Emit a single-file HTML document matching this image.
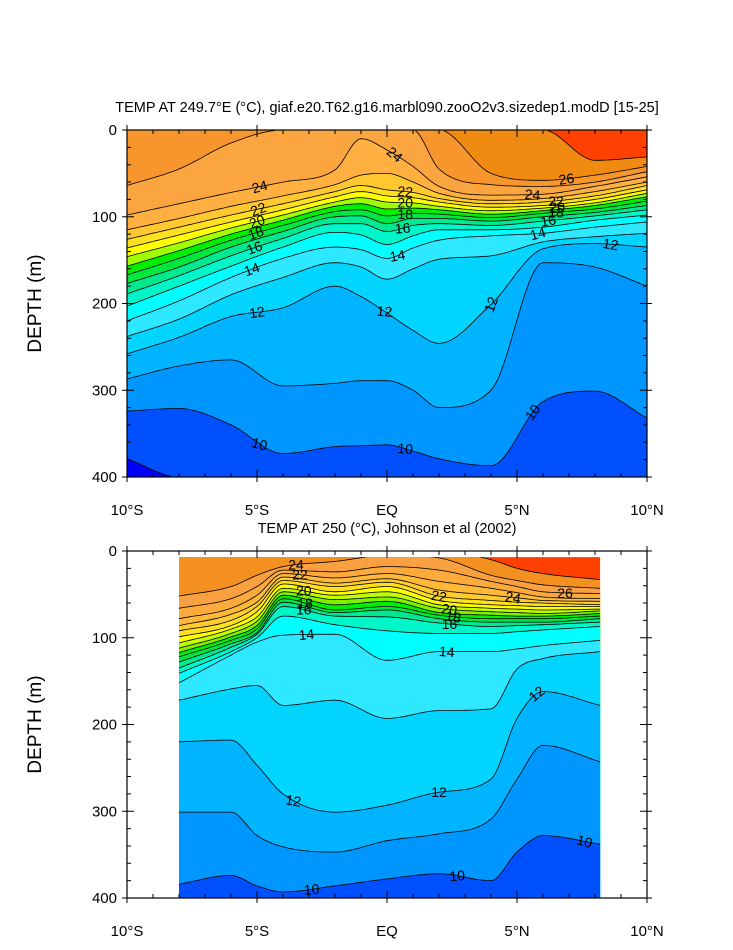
<!DOCTYPE html>
<html><head><meta charset="utf-8"><style>
html,body{margin:0;padding:0;background:#fff;}
svg text{font-family:"Liberation Sans",sans-serif;}
</style></head><body>
<svg id="fig" xmlns="http://www.w3.org/2000/svg" width="733" height="945" viewBox="0 0 733 945"></svg>
<script>
// ---------- TOP PANEL DATA (model) ----------
const topLats=[-10,-8,-6,-4,-2,-1,0,1,2,4,6,8,10];
const topLevels=[9,10,11,12,13,14,15,16,17,18,19,20,21,22,23,24,25,26,27];
const top9 =[379,400,400,400,400,400,400,400,400,400,400,400,400];
const top10=[324,321,340,373,365,364,363,370,379,387,313,301,332];
const top11=[287,272,265,295,292,289,289,300,320,300,153,158,180];
const top12=[258,239,215,205,180,192,211,231,246,201,137,131,135];
const top13=[238,218,190,170,153,158,172,160,149,145,129,123,119];
const top14=[220,197,170,148,135,138,148,136,127,122,119,112,106];
const top15=[203,180,157,135,118,121,132,122,115,115,112,104,98];
const top16=[189,168,145,125,108,108,117,110,108,110,105,99,92];
const top17=[177,158,135,117,100,99,108,102,102,105,100,95,87];
const top18=[167,148,127,110,94,92,99,96,97,101,96,91,82];
const top19=[157,139,120,104,88,85,91,90,92,97,93,87,77];
const top20=[146,130,113,98,83,78,83,84,88,93,90,84,73];
const top21=[136,121,106,92,77,71,76,78,83,89,87,80,69];
const top22=[126,112,98,85,71,64,69,72,79,85,83,76,64];
const top23=[115,102,88,76,63,52,50,60,73,81,79,71,60];
const top24=[98,85,72,60,46,10,23,42,65,75,74,65,54];
const top25=[64,45,15,0,0,0,0,0,45,63,65,60,48];
const top26=[0,0,0,0,0,0,0,0,0,50,58,52,42];
const top27=[0,0,0,0,0,0,0,0,0,0,0,35,31];
const topBandColors=["#0000ff","#0050ff","#0096ff","#00b4ff","#00d4ff","#2ee8ff","#00ffff","#00f5c8","#00e890","#00e840","#00ee00","#a0ff00","#ffff00","#ffe020","#ffc830","#ffb040","#fba540","#f7962c","#f08a10","#ff4000"];
const topLabelText=["24","24","22","20","18","16","14","12","10","22","20","18","16","14","12","10","26","24","22","20","18","16","14","12","12","10"];
const topLabelLevel=[24,24,22,20,18,16,14,12,10,22,20,18,16,14,12,10,26,24,22,20,18,16,14,12,12,10];
const topLabelLat=[0.3,-4.9,-4.95,-5.0,-5.05,-5.1,-5.2,-5.0,-4.9,0.7,0.7,0.7,0.6,0.4,-0.1,0.7,6.9,5.6,6.5,6.55,6.5,6.2,5.8,4.0,8.6,5.6];
const topLabelRot=[40,-15,-20,-20,-20,-20,-20,-8,15,5,0,0,-5,-10,5,5,-8,5,0,0,0,-10,-15,-70,10,-55];

// ---------- BOTTOM PANEL DATA (Johnson et al) ----------
const botLats=[-8,-6,-5,-4,-2,0,2,4,5,6,8.2];
const botLevels=[10,11,12,13,14,15,16,17,18,19,20,21,22,23,24,25,26,27,28];
const bot10=[384,374,386,393,386,378,372,380,347,328,338];
const bot11=[301,301,328,341,347,334,326,309,263,224,243];
const bot12=[220,218,247,280,301,293,278,263,193,162,178];
const bot13=[172,159,155,178,172,193,184,182,136,124,116];
const bot14=[152,120,105,97,96,126,116,116,113,109,103];
const bot15=[141,116,100,75,85,92,95,95,93,91,87];
const bot16=[135,111,96,64,75,76,83,87,86,85,82];
const bot17=[128,107,94,59,71,68,78,82,82,82,78];
const bot18=[122,103,90,55,68,64,74,78,78,78,75];
const bot19=[117,99,86,51,62,58,71,74,75,75,72];
const bot20=[112,95,81,47,56,53,66,70,71,72,69];
const bot21=[106,90,76,43,51,47,62,66,67,68,67];
const bot22=[99,86,70,38,47,41,57,62,63,64,64];
const bot23=[92,80,64,34,41,36,52,57,59,60,62];
const bot24=[86,73,59,30,37,32,45,51,54,57,58];
const bot25=[78,66,51,26,31,26,35,43,48,53,55];
const bot26=[66,55,41,22,24,18,22,35,41,47,49];
const bot27=[52,41,28,18,12,5,8,28,34,39,43];
const bot28=[0,0,0,0,0,0,0,10,20,26,33];
const botBandColors=["#0050ff","#0096ff","#00b4ff","#00d4ff","#2ee8ff","#00ffff","#00f5c8","#00e890","#00e840","#00ee00","#80f000","#c0ff00","#ffff00","#ffe020","#ffcc30","#ffb838","#fcaa3c","#f9a040","#f39020","#ff4000"];
const botLabelText=["24","22","20","18","16","14","12","10","14","12","10","22","20","18","16","24","26","12","10"];
const botLabelLevel=[27,25,21,18,16,14,12,10,14,12,10,23,20,18,16,24,26,12,10];
const botLabelLat=[-3.5,-3.35,-3.2,-3.15,-3.2,-3.1,-3.6,-2.9,2.3,2.0,2.7,2.0,2.4,2.55,2.4,4.85,6.85,5.75,7.6];
const botLabelRot=[0,0,0,0,0,-5,10,-5,5,0,-5,10,10,10,0,10,0,-40,15];

const topLines=[top9,top10,top11,top12,top13,top14,top15,top16,top17,top18,top19,top20,top21,top22,top23,top24,top25,top26,top27];
const botLines=[bot10,bot11,bot12,bot13,bot14,bot15,bot16,bot17,bot18,bot19,bot20,bot21,bot22,bot23,bot24,bot25,bot26,bot27,bot28];

const xTickLabels=["10°S","5°S","EQ","5°N","10°N"];
const xTickVals=[-10,-5,0,5,10];
const yTickVals=[0,100,200,300,400];

const NS="http://www.w3.org/2000/svg";
const svg=document.getElementById('fig');
function mk(tag,attrs,parent){const e=document.createElementNS(NS,tag);for(const k in attrs)e.setAttribute(k,attrs[k]);(parent||svg).appendChild(e);return e;}

function interp(xs,ys,x){
  const n=xs.length;
  if(x<=xs[0])return ys[0]; if(x>=xs[n-1])return ys[n-1];
  const d=[],m=[];
  for(let i=0;i<n-1;i++)d.push((ys[i+1]-ys[i])/(xs[i+1]-xs[i]));
  m.push(d[0]);
  for(let i=1;i<n-1;i++){m.push(d[i-1]*d[i]<=0?0:(d[i-1]+d[i])/2);}
  m.push(d[n-2]);
  for(let i=0;i<n-1;i++){if(d[i]===0){m[i]=0;m[i+1]=0;}else{const a=m[i]/d[i],b=m[i+1]/d[i];const s=a*a+b*b;if(s>9){const t=3/Math.sqrt(s);m[i]=t*a*d[i];m[i+1]=t*b*d[i];}}}
  let k=0;while(x>xs[k+1])k++;
  const h=xs[k+1]-xs[k],t=(x-xs[k])/h;
  const h00=2*t*t*t-3*t*t+1,h10=t*t*t-2*t*t+t,h01=-2*t*t*t+3*t*t,h11=t*t*t-t*t;
  return h00*ys[k]+h10*h*m[k]+h01*ys[k+1]+h11*h*m[k+1];
}

function panel(cfg){
  const X=lat=>cfg.x0+(lat+10)*(cfg.x1-cfg.x0)/20;
  const Y=dep=>cfg.y0+dep*(cfg.y1-cfg.y0)/400;
  const g=mk('g',{});
  
  
  const cid='clip-'+cfg.name;
  const defs=mk('defs',{},g);
  const cp=mk('clipPath',{id:cid},defs);
  const la=cfg.lats[0],lb=cfg.lats[cfg.lats.length-1];
  mk('rect',{x:X(la),y:Y(cfg.dtop),width:X(lb)-X(la),height:Y(400)-Y(cfg.dtop)},cp);
  const field=mk('g',{'clip-path':'url(#'+cid+')'},g);
  
  
  const bg=mk('rect',{x:X(la),y:Y(0),width:X(lb)-X(la),height:Y(400)-Y(0),fill:cfg.colors[cfg.colors.length-1]},field);
  
  
  const samples=[];for(let l=la;l<=lb+1e-9;l+=0.1)samples.push(Math.min(l,lb));
  const curves=cfg.lines.map(arr=>samples.map(l=>[X(l),Y(Math.max(0,Math.min(400,interp(cfg.lats,arr,l))))]));
  for(let i=cfg.lines.length-1;i>=0;i--){
    const c=curves[i];
    let d='M'+c.map(p=>p[0].toFixed(1)+','+p[1].toFixed(1)).join('L');
    d+='L'+X(lb).toFixed(1)+','+Y(401)+'L'+X(la).toFixed(1)+','+Y(401)+'Z';
    const p=mk('path',{d:d,fill:cfg.colors[i],stroke:'none'},field);
    
    
  }
  for(let i=0;i<cfg.lines.length;i++){
    const c=curves[i];let d='',on=false;
    c.forEach(p=>{const inside=p[1]>Y(0)+0.4&&p[1]<Y(400)-0.4;if(inside){d+=(on?'L':'M')+p[0].toFixed(1)+','+p[1].toFixed(1);on=true;}else on=false;});
    if(d){const p=mk('path',{d:d,fill:'none',stroke:'#000','stroke-width':0.8},field);
      
      }
  }
  for(let j=0;j<cfg.lt.length;j++){
    const idx=cfg.levels.indexOf(cfg.ll[j]);
    const lat=cfg.lla[j];
    const dep=interp(cfg.lats,cfg.lines[idx],lat);
    const t=mk('text',{x:X(lat),y:Y(dep),'font-size':14,'text-anchor':'middle','dominant-baseline':'central',transform:'rotate('+cfg.lr[j]+' '+X(lat)+' '+Y(dep)+')'},field);
    t.textContent=cfg.lt[j];
    
    
  }
  const fr=mk('rect',{x:cfg.x0,y:cfg.y0,width:cfg.x1-cfg.x0,height:cfg.y1-cfg.y0,fill:'none',stroke:'#000','stroke-width':1.2},g);
  
  
  let td='';
  for(let l=-10;l<=10;l++){const x=X(l);const maj=l%5===0;const li=maj?7:4;
    td+='M'+x+','+cfg.y1+'v'+(-li)+'M'+x+','+cfg.y0+'v'+li;
    if(maj)td+='M'+x+','+cfg.y1+'v5M'+x+','+cfg.y0+'v-5';}
  for(let dpt=0;dpt<=400;dpt+=20){const y=Y(dpt);const maj=dpt%100===0;const li=maj?7:4;
    td+='M'+cfg.x0+','+y+'h'+li+'M'+cfg.x1+','+y+'h'+(-li);
    if(maj)td+='M'+cfg.x0+','+y+'h-5M'+cfg.x1+','+y+'h5';}
  const tk=mk('path',{d:td,stroke:'#000','stroke-width':1,fill:'none'},g);
  
  
  xTickLabels.forEach((s,i)=>{const t=mk('text',{x:X(xTickVals[i]),y:cfg.y1+38,'font-size':15,'text-anchor':'middle'},g);t.textContent=s;
    
    });
  yTickVals.forEach(v=>{const t=mk('text',{x:cfg.x0-10,y:Y(v)+5,'font-size':15,'text-anchor':'end'},g);t.textContent=v;
    
    });
  const yt=mk('text',{x:41,y:(cfg.y0+cfg.y1)/2,'font-size':19,'text-anchor':'middle',transform:'rotate(-90 41 '+(cfg.y0+cfg.y1)/2+')'},g);
  yt.textContent='DEPTH (m)';
  
  
  const tt=mk('text',{x:(cfg.x0+cfg.x1)/2,y:cfg.y0-18,'font-size':14.5,'text-anchor':'middle'},g);
  tt.textContent=cfg.title;
  
  
}
panel({name:'model-panel',x0:127,x1:647,y0:130,y1:477,lats:topLats,levels:topLevels,lines:topLines,colors:topBandColors,dtop:0,
  lt:topLabelText,ll:topLabelLevel,lla:topLabelLat,lr:topLabelRot,
  title:'TEMP AT 249.7°E (°C), giaf.e20.T62.g16.marbl090.zooO2v3.sizedep1.modD [15-25]'});
panel({name:'obs-panel',x0:127,x1:647,y0:551,y1:898,lats:botLats,levels:botLevels,lines:botLines,colors:botBandColors,dtop:7,
  lt:botLabelText,ll:botLabelLevel,lla:botLabelLat,lr:botLabelRot,
  title:'TEMP AT 250 (°C), Johnson et al (2002)'});
</script>
</body></html>
